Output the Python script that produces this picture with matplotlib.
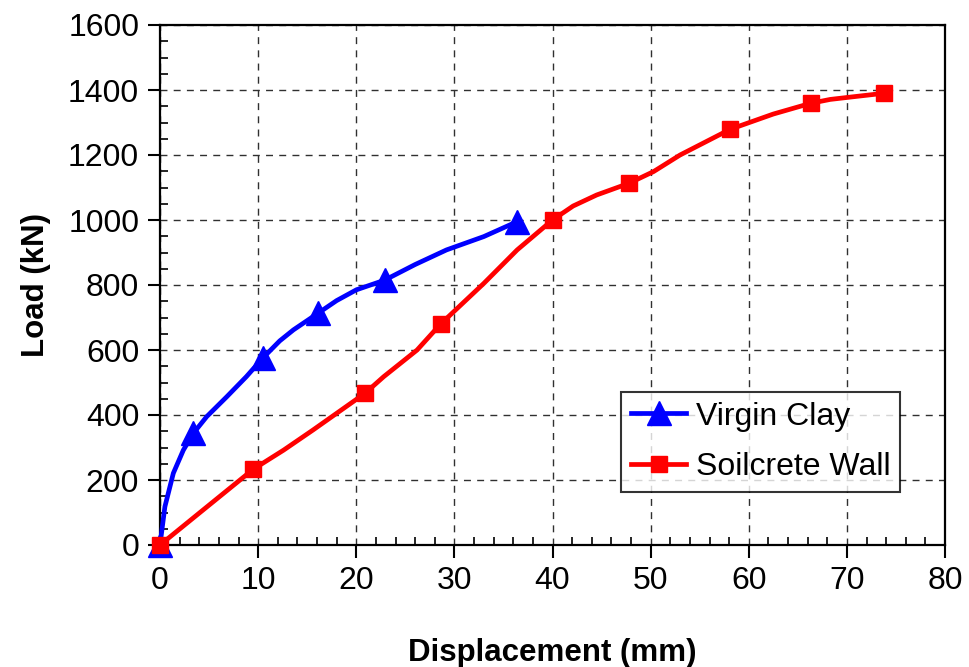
import matplotlib
matplotlib.use("Agg")
import matplotlib.pyplot as plt
from matplotlib.ticker import MultipleLocator

plt.rcParams['font.family'] = ['Liberation Sans', 'DejaVu Sans']

# Virgin Clay (markers at selected points)
clay_x = [0.0, 0.5, 1.36, 2.38, 3.4, 4.76, 6.8, 8.8, 10.5, 12.2, 13.6, 16.1,
          18.0, 20.0, 22.9, 26.0, 29.2, 33.0, 36.4]
clay_y = [0, 118, 221, 292, 344, 395, 456, 518, 576, 628, 662, 713,
          752, 785, 815, 863, 908, 949, 995]
clay_marks = [0, 4, 8, 11, 14, 18]

# Soilcrete Wall
wall_x = [0.0, 4.4, 9.5, 12.6, 15.6, 20.9, 22.8, 26.2, 28.6, 33.0, 36.4, 40.0,
          42.1, 44.5, 47.8, 50.3, 53.0, 58.1, 62.5, 66.3, 68.3, 70.3, 73.8]
wall_y = [0, 108, 233, 292, 354, 467, 518, 600, 680, 805, 908, 1000,
          1043, 1077, 1113, 1149, 1200, 1279, 1326, 1359, 1371, 1378, 1390]
wall_marks = [0, 2, 5, 8, 11, 14, 17, 19, 22]

fig = plt.figure(figsize=(9.69, 6.67), dpi=100)
ax = fig.add_axes([160/969, 1-545/667, 785/969, 520/667])

ax.plot(clay_x, clay_y, color='#0000FF', lw=3.4, marker='^', markersize=17,
        markevery=clay_marks, label='Virgin Clay', zorder=4, clip_on=False,
        solid_joinstyle='round')
ax.plot(wall_x, wall_y, color='#FF0000', lw=3.4, marker='s', markersize=12,
        markevery=wall_marks, label='Soilcrete Wall', zorder=5, clip_on=False,
        solid_joinstyle='round')

ax.set_xlim(0, 80)
ax.set_ylim(0, 1600)
ax.xaxis.set_major_locator(MultipleLocator(10))
ax.xaxis.set_minor_locator(MultipleLocator(2))
ax.yaxis.set_major_locator(MultipleLocator(200))
ax.yaxis.set_minor_locator(MultipleLocator(50))

ax.grid(True, which='major', color='#303030', linestyle=(0, (5, 4.5)), lw=1.0)
ax.set_axisbelow(True)

ax.tick_params(which='major', direction='out', length=9, width=1.5,
               labelsize=23, pad=6, top=False, right=False)
ax.tick_params(which='minor', direction='in', length=6, width=1.2,
               top=False, right=False)
for s in ax.spines.values():
    s.set_linewidth(1.6)
    s.set_color('black')

ax.set_xlabel('Displacement (mm)', fontsize=22.5, fontweight='bold', labelpad=30)
ax.set_ylabel('Load (kN)', fontsize=22.5, fontweight='bold', labelpad=12)

leg = ax.legend(loc='lower right', bbox_to_anchor=(0.943, 0.102), fontsize=23,
                frameon=True, fancybox=False, edgecolor='black',
                handlelength=1.75, borderpad=0.3, labelspacing=0.65,
                handletextpad=0.3, borderaxespad=0)
leg.get_frame().set_linewidth(1.5)
leg.set_zorder(10)

fig.savefig('out.png', dpi=100)
